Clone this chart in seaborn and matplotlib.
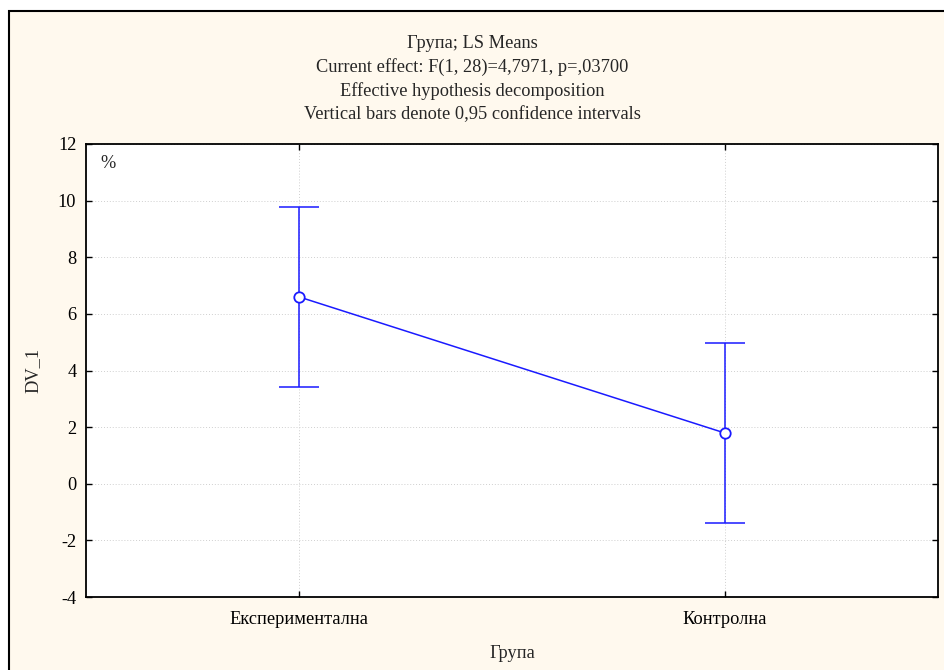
import matplotlib
matplotlib.use("Agg")
import matplotlib.pyplot as plt
import matplotlib.patches as mpatches
import seaborn as sns
import pandas as pd
import numpy as np

groups = ["Експериментална", "Контролна"]
means = [6.60, 1.79]
ci_low = [3.42, -1.39]
ci_high = [9.78, 4.97]
yticks = [-4, -2, 0, 2, 4, 6, 8, 10, 12]
title_lines = ["Група; LS Means",
               "Current effect: F(1, 28)=4,7971, p=,03700",
               "Effective hypothesis decomposition",
               "Vertical bars denote 0,95 confidence intervals"]

sns.set_theme(style="white")
plt.rcParams['font.family'] = ['Liberation Serif', 'DejaVu Serif']
FS = 13.2

W, H = 944, 670
fig = plt.figure(figsize=(W / 100, H / 100), dpi=100, facecolor="white")
cream = "#fff9ee"
fig.patches.append(mpatches.Rectangle((9 / W, -0.1), 1.2, 1.1 - 11 / H,
                                      transform=fig.transFigure, facecolor=cream,
                                      edgecolor="black", linewidth=1.5, zorder=-5))
ax = fig.add_axes([86 / W, 1 - 597 / H, (938 - 86) / W, (597 - 144) / H])
ax.set_zorder(2)
ax.set_facecolor("white")

df = pd.DataFrame({"Група": groups, "DV_1": means})
blue = "#1a1aff"
err = np.array([np.array(means) - np.array(ci_low), np.array(ci_high) - np.array(means)])
ax.errorbar(x=np.arange(len(groups)), y=means, yerr=err, fmt="none", ecolor=blue,
            elinewidth=1.1, capsize=14.5, capthick=1.1, zorder=2)
sns.lineplot(data=df, x="Група", y="DV_1", ax=ax, color=blue, linewidth=1.1,
             marker="o", markersize=7.5, markerfacecolor="white", markeredgecolor=blue,
             markeredgewidth=1.3, sort=False, zorder=3)

ax.set_xlim(-0.5, 1.5)
ax.set_ylim(-4, 12)
ax.set_yticks(yticks)
ax.set_yticklabels([str(t) for t in yticks])
ax.set_xticks(range(len(groups)))
ax.set_xticklabels(groups)
ax.grid(True, linestyle=(0, (1, 2)), color="#cfcfcf", linewidth=0.7)
ax.tick_params(axis="both", direction="in", length=4, width=1, colors="black",
               labelsize=FS, top=True, right=True, bottom=True, left=True, pad=7)
ax.tick_params(axis="x", pad=10)
for s in ax.spines.values():
    s.set_color("black")
    s.set_linewidth(1.3)
ax.set_xlabel("Група", fontsize=FS, labelpad=12)
ax.set_ylabel("DV_1", fontsize=FS, labelpad=12)
ax.text(0.017, 0.975, "%", transform=ax.transAxes, ha="left", va="top", fontsize=FS)

for i, line in enumerate(title_lines):
    fig.text(472 / W, 1 - (43 + 24 * i) / H, line, ha="center", va="center", fontsize=FS)

fig.savefig("out.png", dpi=100, facecolor=fig.get_facecolor())
